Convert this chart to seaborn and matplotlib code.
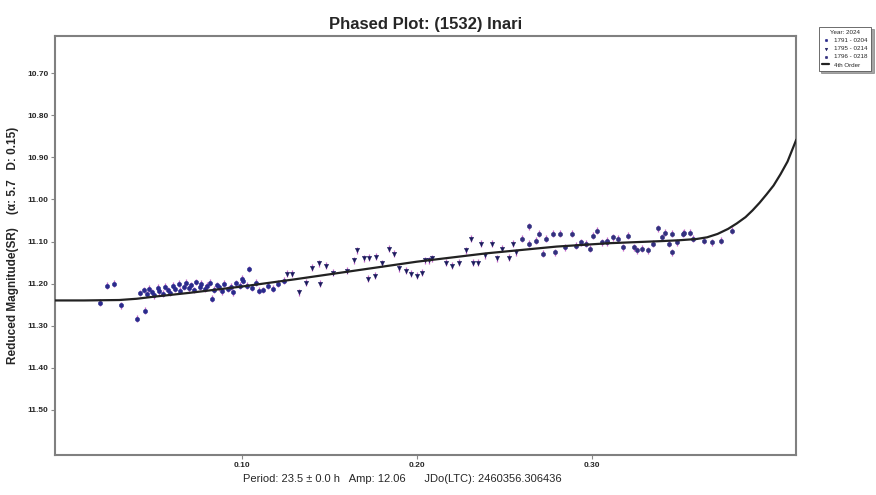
import numpy as np
import pandas as pd
import matplotlib
matplotlib.use('Agg')
import matplotlib.pyplot as plt
import seaborn as sns

# fitted curve
fit_phase = [-0.0066, 0.010, 0.030, 0.040, 0.050, 0.070, 0.100, 0.130, 0.160, 0.200, 0.240,
             0.280, 0.310, 0.340, 0.350, 0.360, 0.366, 0.372, 0.378, 0.383, 0.388, 0.392,
             0.396, 0.400, 0.404, 0.408, 0.412, 0.417]
fit_mag = [11.240, 11.240, 11.239, 11.236, 11.231, 11.222, 11.207, 11.190, 11.172, 11.148, 11.128,
           11.112, 11.104, 11.099, 11.097, 11.094, 11.090, 11.082, 11.070, 11.057, 11.042, 11.026,
           11.008, 10.988, 10.967, 10.940, 10.910, 10.858]

# session 1791 - 0204
s1_phase = [0.019, 0.023, 0.027, 0.031, 0.040, 0.045, 0.042, 0.044, 0.046, 0.047, 0.049, 0.050,
            0.052, 0.053, 0.055, 0.056, 0.058, 0.059, 0.061, 0.062, 0.064, 0.065, 0.067, 0.068,
            0.070, 0.071, 0.073, 0.074, 0.076, 0.077, 0.079, 0.080, 0.082, 0.083, 0.084, 0.086,
            0.087, 0.089, 0.090, 0.092, 0.094, 0.095, 0.097, 0.099, 0.100, 0.101, 0.103, 0.104,
            0.106, 0.108, 0.110, 0.112, 0.115, 0.118, 0.121, 0.124]
s1_mag = [11.245, 11.205, 11.200, 11.252, 11.283, 11.264, 11.222, 11.215, 11.225, 11.212, 11.220, 11.228,
          11.210, 11.218, 11.224, 11.207, 11.215, 11.222, 11.205, 11.213, 11.200, 11.217, 11.208, 11.198,
          11.211, 11.203, 11.215, 11.196, 11.207, 11.200, 11.212, 11.205, 11.198, 11.236, 11.214, 11.203,
          11.209, 11.218, 11.200, 11.213, 11.207, 11.221, 11.199, 11.205, 11.188, 11.193, 11.205, 11.165,
          11.210, 11.198, 11.217, 11.215, 11.205, 11.212, 11.200, 11.193]

# session 1795 - 0214
s2_phase = [0.126, 0.129, 0.133, 0.137, 0.140, 0.144, 0.145, 0.148, 0.152, 0.160, 0.164, 0.166,
            0.170, 0.172, 0.173, 0.176, 0.177, 0.180, 0.184, 0.187, 0.190, 0.194, 0.197, 0.200,
            0.203, 0.205, 0.207, 0.209, 0.217, 0.220, 0.224, 0.228, 0.231, 0.232, 0.235, 0.237,
            0.239, 0.243, 0.246, 0.249, 0.253, 0.255, 0.257]
s2_mag = [11.176, 11.176, 11.221, 11.198, 11.162, 11.152, 11.200, 11.157, 11.174, 11.169, 11.145, 11.121,
          11.140, 11.188, 11.138, 11.181, 11.136, 11.152, 11.117, 11.129, 11.164, 11.169, 11.176, 11.181,
          11.174, 11.145, 11.145, 11.140, 11.150, 11.157, 11.150, 11.121, 11.093, 11.150, 11.150, 11.105,
          11.133, 11.105, 11.140, 11.117, 11.138, 11.105, 11.126]

# session 1796 - 0218
s3_phase = [0.260, 0.264, 0.264, 0.268, 0.270, 0.272, 0.274, 0.278, 0.279, 0.282, 0.285, 0.289,
            0.291, 0.294, 0.297, 0.299, 0.301, 0.303, 0.306, 0.309, 0.309, 0.312, 0.315, 0.318,
            0.321, 0.324, 0.326, 0.329, 0.332, 0.335, 0.338, 0.340, 0.342, 0.344, 0.346, 0.346,
            0.349, 0.352, 0.353, 0.356, 0.358, 0.364, 0.369, 0.374, 0.380]
s3_mag = [11.093, 11.064, 11.105, 11.098, 11.081, 11.129, 11.093, 11.081, 11.126, 11.081, 11.114, 11.081,
          11.110, 11.102, 11.105, 11.117, 11.086, 11.074, 11.102, 11.098, 11.102, 11.090, 11.093, 11.114,
          11.086, 11.114, 11.121, 11.117, 11.121, 11.105, 11.069, 11.090, 11.079, 11.105, 11.081, 11.126,
          11.102, 11.081, 11.079, 11.079, 11.093, 11.098, 11.102, 11.098, 11.074]

mag_err = 0.008

series = [
    ('1791 - 0204', s1_phase, s1_mag, 'o', '#2a2a8c'),
    ('1795 - 0214', s2_phase, s2_mag, 'v', '#1b1b5e'),
    ('1796 - 0218', s3_phase, s3_mag, 'o', '#33307f'),
]

sns.set_style('white')
plt.rcParams['font.family'] = ['Liberation Sans', 'DejaVu Sans']

fig = plt.figure(figsize=(8.76, 4.95), dpi=100)
ax = fig.add_axes([0.063, 0.081, 0.846, 0.846])

for label, ph, mg, mk, col in series:
    ax.errorbar(ph, mg, yerr=mag_err, fmt='none', ecolor='#c465c8', elinewidth=0.9, capsize=0, zorder=2)
    sns.scatterplot(x=ph, y=mg, marker=mk, color=col, s=10, edgecolor=col, linewidth=0.3,
                    label=label, ax=ax, zorder=3)

fit_df = pd.DataFrame({'phase': fit_phase, 'mag': fit_mag})
sns.lineplot(data=fit_df, x='phase', y='mag', color='#222222', linewidth=1.6, label='4th Order',
             ax=ax, zorder=4, sort=False)

ax.set_xlim(-0.0066, 0.417)
ax.set_ylim(11.607, 10.612)
ax.set_xticks([0.10, 0.20, 0.30])
ax.set_xticklabels(['0.10', '0.20', '0.30'])
ax.set_yticks([10.70, 10.80, 10.90, 11.00, 11.10, 11.20, 11.30, 11.40, 11.50])
ax.set_yticklabels(['10.70', '10.80', '10.90', '11.00', '11.10', '11.20', '11.30', '11.40', '11.50'])
ax.tick_params(axis='both', bottom=True, left=True, labelsize=6, length=3, width=0.8,
               color='#888888', pad=2)
for lbl in ax.get_xticklabels() + ax.get_yticklabels():
    lbl.set_fontweight('bold')
for sp in ax.spines.values():
    sp.set_color('#808080')
    sp.set_linewidth(1.5)

ax.set_title('Phased Plot: (1532) Inari', fontsize=12, fontweight='bold', pad=5)
ax.set_xlabel('Period: 23.5 \u00b1 0.0 h   Amp: 12.06      JDo(LTC): 2460356.306436', fontsize=8, labelpad=3)
ax.xaxis.set_label_coords(0.468, -0.045)
ax.set_ylabel('Reduced Magnitude(SR)    (\u03b1: 5.7   D: 0.15)', fontsize=8.5, fontweight='bold', labelpad=6)

leg = ax.legend(title='Year: 2024', loc='upper left', bbox_to_anchor=(1.026, 1.03), fontsize=4.5,
                title_fontsize=4.5, frameon=True, fancybox=False, shadow=True, markerscale=0.6,
                handlelength=1.2, borderpad=0.5, labelspacing=0.45, edgecolor='#555555')
leg.get_frame().set_linewidth(0.6)

fig.savefig('out.png', dpi=100)
